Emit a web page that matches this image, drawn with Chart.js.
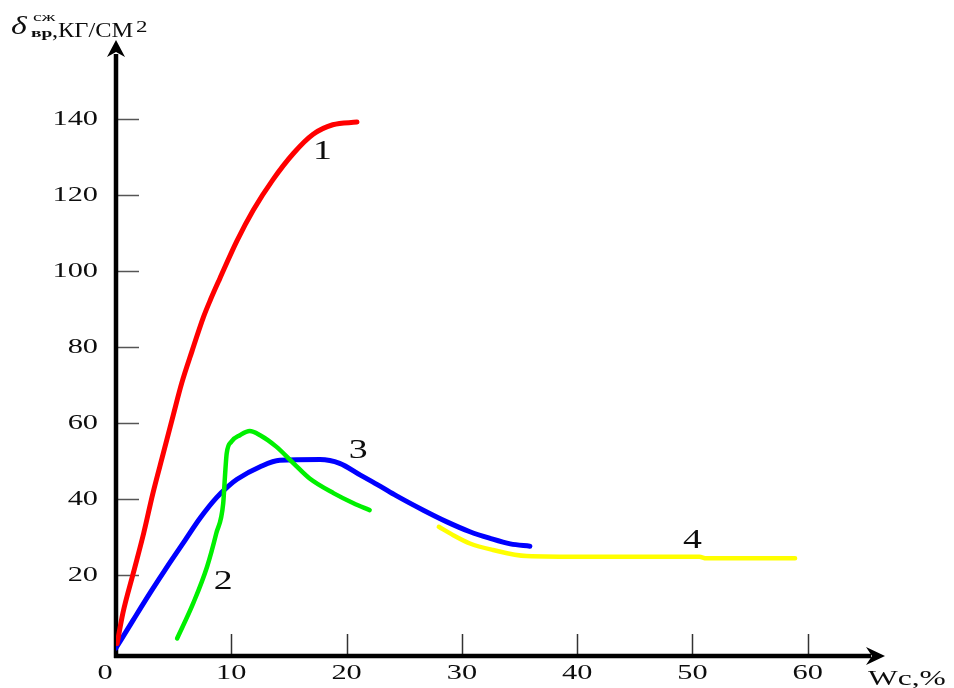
<!DOCTYPE html>
<html lang="ru">
<head>
<meta charset="utf-8">
<title>Прочность на сжатие</title>
<script src="https://cdn.jsdelivr.net/npm/chart.js@4/dist/chart.umd.min.js"></script>
<style>
  html, body { margin: 0; padding: 0; background: #fff; }
  #chart { display: block; }
</style>
</head>
<body>
<canvas id="chart" width="954" height="688"></canvas>
<script>
/* ── DATA ─────────────────────────────────────────────────── */
// Wc, % on x, strength in kg/cm2 on y
const X_TICKS = [10, 20, 30, 40, 50, 60];
const Y_TICKS = [20, 40, 60, 80, 100, 120, 140];

const W1 = [0.1, 0.6, 1.5, 2.4, 3.2, 4.1, 5.0, 5.7, 6.6, 7.6, 8.2, 9.0, 10.5, 11.9, 13.6, 15.4, 17.1, 18.8, 20.9];
const S1 = [2, 10, 20.5, 31, 41.5, 52, 62.5, 70.5, 79, 88, 92.5, 98, 108, 116, 124, 131, 136, 138.5, 139.2];

const W2 = [5.3, 6.7, 7.9, 8.7, 9.3, 9.45, 9.6, 10.0, 10.75, 11.6, 12.5, 13.9, 15.4, 16.8, 18.9, 20.6, 22.0];
const S2 = [3.3, 12.6, 22.2, 31, 38.9, 45.9, 52, 55.1, 56.8, 57.9, 56.8, 53.8, 49.4, 45.4, 41.5, 38.9, 37.1];

const W3 = [0, 1.5, 3.0, 4.5, 6.0, 7.3, 8.7, 9.75, 10.5, 12.5, 14.2, 17.7, 19.4, 21.2, 22.9, 24.3, 26.7, 28.7, 30.7, 32.4, 34.2, 35.9];
const S3 = [0.8, 8.2, 15.5, 22.5, 29.2, 35, 40.3, 43.4, 45.2, 48.5, 50.2, 50.4, 49.4, 46.3, 43.4, 40.9, 37.0, 34, 31.4, 29.7, 28.2, 27.6];

const W4 = [28.0, 29.25, 30.7, 32.7, 35.6, 40.8, 50.6, 51.2, 58.9];
const S4 = [32.7, 30.5, 28.3, 26.6, 25.0, 24.8, 24.8, 24.4, 24.4];

// curve numbers, anchored in data units
const CURVE_NAMES = ['1', '2', '3', '4'];
const NAME_AT_W = [17.9, 9.3, 21.0, 50.0];
const NAME_AT_S = [131.3, 18.2, 52.6, 29.1];

const SERIF = "'Liberation Serif', 'DejaVu Serif', serif";
const INK = '#0d0d0d';

function pts(xs, ys) {
  return xs.map((v, i) => ({ x: v, y: ys[i] }));
}

function line(data, color, width) {
  return {
    data,
    showLine: true,
    borderColor: color,
    backgroundColor: color,
    borderWidth: width,
    pointRadius: 0,
    cubicInterpolationMode: 'monotone',
    borderCapStyle: 'round',
    borderJoinStyle: 'round',
    fill: false,
  };
}

// text in this figure is set wide, so every label gets a horizontal stretch
function wideText(ctx, str, x, y, font, sx, align, baseline) {
  ctx.save();
  ctx.translate(x, y);
  ctx.scale(sx, 1);
  ctx.font = font;
  ctx.textAlign = align || 'left';
  ctx.textBaseline = baseline || 'alphabetic';
  ctx.fillText(str, 0, 0);
  ctx.restore();
}

/* ── ARROW AXES + TEXT ────────────────────────────────────── */
function arrowHead(ctx, tx, ty, dir) {
  // dir: 'up' or 'right'; barbed head
  ctx.beginPath();
  if (dir === 'up') {
    ctx.moveTo(tx, ty);
    ctx.lineTo(tx + 9, ty + 17);
    ctx.lineTo(tx, ty + 12);
    ctx.lineTo(tx - 9, ty + 17);
  } else {
    ctx.moveTo(tx, ty);
    ctx.lineTo(tx - 19, ty - 9);
    ctx.lineTo(tx - 13, ty);
    ctx.lineTo(tx - 19, ty + 9);
  }
  ctx.closePath();
  ctx.fill();
}

const arrowAxes = {
  id: 'arrowAxes',
  beforeDatasetsDraw(chart) {
    const { ctx, chartArea: a, scales: { x, y } } = chart;
    ctx.save();

    // inner tick marks
    ctx.strokeStyle = '#333';
    ctx.lineWidth = 1.5;
    X_TICKS.forEach(v => {
      const px = Math.round(x.getPixelForValue(v)) + 0.5;
      ctx.beginPath();
      ctx.moveTo(px, a.bottom);
      ctx.lineTo(px, a.bottom - 22);
      ctx.stroke();
    });
    ctx.strokeStyle = '#555';
    Y_TICKS.forEach(v => {
      const py = Math.round(y.getPixelForValue(v)) + 0.5;
      ctx.beginPath();
      ctx.moveTo(a.left, py);
      ctx.lineTo(a.left + 23, py);
      ctx.stroke();
    });

    // axis lines
    ctx.strokeStyle = '#000';
    ctx.fillStyle = '#000';
    ctx.lineWidth = 4.5;
    ctx.beginPath();
    ctx.moveTo(a.left, a.bottom + 2);
    ctx.lineTo(a.left, a.top + 14);
    ctx.moveTo(a.left - 2, a.bottom);
    ctx.lineTo(a.right - 14, a.bottom);
    ctx.stroke();
    arrowHead(ctx, a.left, a.top, 'up');
    arrowHead(ctx, a.right, a.bottom, 'right');
    ctx.restore();
  },
  afterDraw(chart) {
    const { ctx, chartArea: a, scales: { x, y } } = chart;
    const tickFont = '22px ' + SERIF;
    ctx.save();
    ctx.fillStyle = INK;

    // tick labels
    X_TICKS.forEach(v => wideText(ctx, String(v), x.getPixelForValue(v), a.bottom + 17, tickFont, 1.38, 'center', 'middle'));
    Y_TICKS.forEach(v => wideText(ctx, String(v), a.left - 18, y.getPixelForValue(v), tickFont, 1.38, 'right', 'middle'));
    wideText(ctx, '0', a.left - 11, a.bottom + 17, tickFont, 1.38, 'center', 'middle');

    // curve numbers
    CURVE_NAMES.forEach((t, i) => {
      wideText(ctx, t, x.getPixelForValue(NAME_AT_W[i]), y.getPixelForValue(NAME_AT_S[i]),
        '27px ' + SERIF, 1.4, 'center', 'middle');
    });

    // axis titles
    wideText(ctx, 'Wc,%', 868, 685, '21px ' + SERIF, 1.5);

    wideText(ctx, 'δ', 11, 34, 'italic 26px ' + SERIF, 1.3);
    wideText(ctx, 'сж', 33, 21, '13px ' + SERIF, 1.5);
    wideText(ctx, 'вр', 31, 37, 'bold 13px ' + SERIF, 1.5);
    wideText(ctx, ',КГ/СМ', 52, 37, '20px ' + SERIF, 1.22);
    wideText(ctx, '2', 136, 32, '17px ' + SERIF, 1.35);
    ctx.restore();
  }
};

/* ── CHART ────────────────────────────────────────────────── */
new Chart(document.getElementById('chart'), {
  type: 'scatter',
  data: {
    datasets: [
      line(pts(W1, S1), '#ff0000', 5),
      line(pts(W2, S2), '#00f000', 4.5),
      line(pts(W3, S3), '#0000ff', 5),
      line(pts(W4, S4), '#ffff00', 4.5),
    ]
  },
  options: {
    responsive: false,
    animation: false,
    events: [],
    layout: { padding: { left: 116, right: 69, top: 40, bottom: 32 } },
    plugins: { legend: { display: false }, tooltip: { enabled: false } },
    scales: {
      x: { type: 'linear', display: false, min: 0, max: 66.7 },
      y: { type: 'linear', display: false, min: -1.3, max: 160.8 }
    }
  },
  plugins: [arrowAxes]
});
</script>
</body>
</html>
